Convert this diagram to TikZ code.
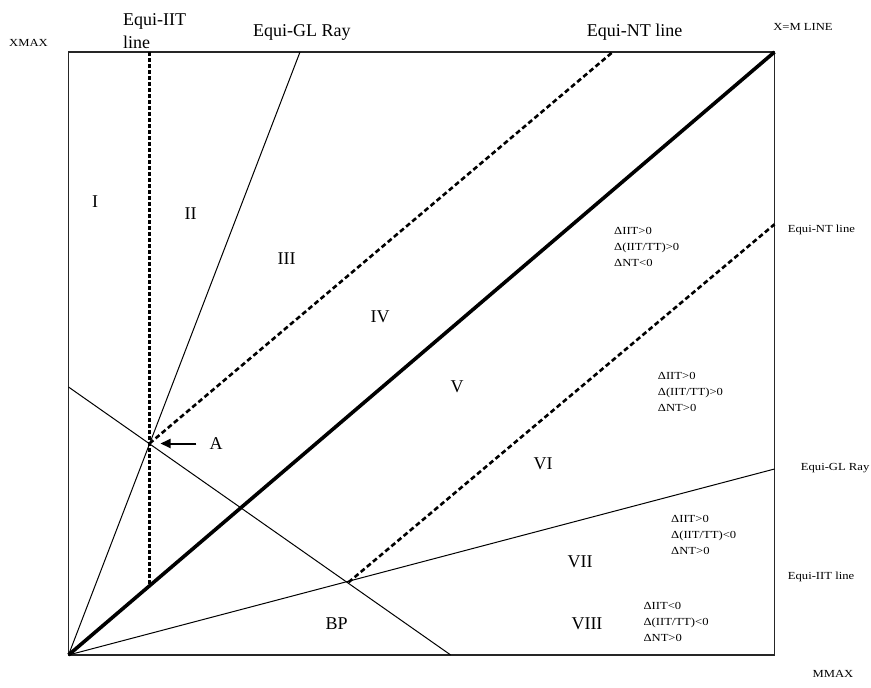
\documentclass[tikz,border=0pt]{standalone}
\usepackage{fontspec}
\setmainfont{Liberation Serif}
\newfontfamily\smallserif[FakeStretch=1.17]{Liberation Serif}
\usetikzlibrary{arrows.meta}
\begin{document}
\begin{tikzpicture}[x=1pt,y=-1pt,
  frame/.style={line width=1.2pt, draw=black!85},
  thinline/.style={line width=1pt},
  xmline/.style={line width=3.6pt},
  dashline/.style={line width=2.6pt, dash pattern=on 5pt off 3pt},
  vdashline/.style={line width=2.6pt, dash pattern=on 4pt off 2pt},
  big/.style={font=\fontsize{18}{20}\selectfont, inner sep=0pt},
  small/.style={font=\smallserif\fontsize{10.8}{13}\selectfont, inner sep=0pt},
  cond/.style={font=\smallserif\fontsize{10.8}{16}\selectfont, inner sep=0pt, align=left, anchor=west},
]
\useasboundingbox (0,0) rectangle (871,688);
% key points
\coordinate (O) at (68.5,655);
\coordinate (TL) at (68.5,52);
\coordinate (TR) at (774.5,52);
\coordinate (BR) at (774.5,655);
\coordinate (A) at (149.5,443.5);
\coordinate (BP) at (348.5,582.3);
\coordinate (iitTop) at (149.5,52);
\coordinate (iitBot) at (149.5,585.8);
\coordinate (glTop) at (300,52);
\coordinate (glRight) at (774.5,469);
\coordinate (ppLeft) at (68.5,387);
\coordinate (ppBot) at (450.7,655);
\coordinate (ntOneTop) at (612.7,52);
\coordinate (ntTwoRight) at (774.5,224.3);

% frame and lines
\draw[frame] (TL) rectangle (BR);
\draw[thinline] (O) -- (glTop);
\draw[thinline] (O) -- (glRight);
\draw[thinline] (ppLeft) -- (ppBot);
\draw[xmline] (O) -- (TR);
\draw[vdashline] (iitTop) -- (iitBot);
\draw[dashline] (A) -- (ntOneTop);
\draw[dashline] (BP) -- (ntTwoRight);

% point A label and arrow
\node[big] (Alab) at (216,443.5) {A};
\draw[line width=2pt, -{Triangle[length=10pt,width=9pt]}, shorten <=13pt, shorten >=11pt] (Alab.west) -- (A);

% top labels
\node[small] (xmax) at (28.5,42.5) {XMAX};
\node[big, anchor=base west] (iitA) at (123,25) {Equi-IIT};
\node[big, anchor=base west] (iitB) at (123,48) {line};
\node[big, anchor=base west] (glTopLab) at (253,36.5) {Equi-GL Ray};
\node[big, anchor=base west] (ntTopLab) at (586.7,36) {Equi-NT line};
\node[small] (xmlab) at (803,26.7) {X=M LINE};

% right labels
\node[small, anchor=west] (ntRightLab) at (787.7,230) {Equi-NT line};
\node[small, anchor=west] (glRightLab) at (800.7,468) {Equi-GL Ray};
\node[small, anchor=west] (iitRightLab) at (787.7,577) {Equi-IIT line};
\node[small] (mmax) at (833,674) {MMAX};

% region labels
\node[big] (rI) at (95,202) {I};
\node[big] (rII) at (190.7,214) {II};
\node[big] (rIII) at (286.7,259) {III};
\node[big] (rIV) at (380,317) {IV};
\node[big] (rV) at (457,387) {V};
\node[big] (rVI) at (543,464) {VI};
\node[big] (rVII) at (580,562) {VII};
\node[big] (rVIII) at (587,624) {VIII};
\node[big] (rBP) at (336.7,624) {BP};

% condition blocks
\node[cond] (c1) at (614,246.5) {ΔIIT>0\\Δ(IIT/TT)>0\\ΔNT<0};
\node[cond] (c2) at (657.7,391.5) {ΔIIT>0\\Δ(IIT/TT)>0\\ΔNT>0};
\node[cond] (c3) at (671,535) {ΔIIT>0\\Δ(IIT/TT)<0\\ΔNT>0};
\node[cond] (c4) at (643.3,622.3) {ΔIIT<0\\Δ(IIT/TT)<0\\ΔNT>0};
\end{tikzpicture}
\end{document}
